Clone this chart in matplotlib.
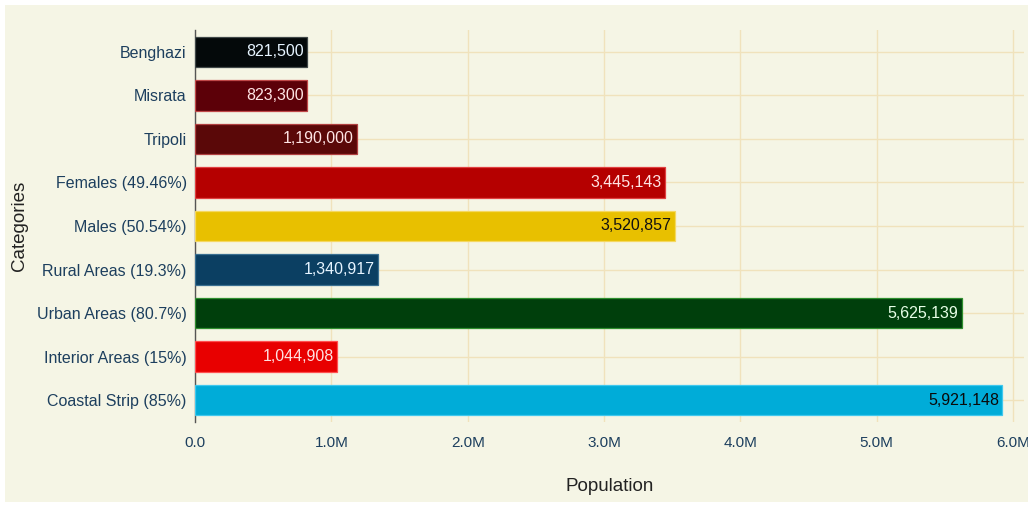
import matplotlib
matplotlib.use("Agg")
import matplotlib.pyplot as plt
from matplotlib.patches import Rectangle

categories = ["Coastal Strip (85%)", "Interior Areas (15%)", "Urban Areas (80.7%)",
              "Rural Areas (19.3%)", "Males (50.54%)", "Females (49.46%)",
              "Tripoli", "Misrata", "Benghazi"]
values = [5921148, 1044908, 5625139, 1340917, 3520857, 3445143, 1190000, 823300, 821500]
bar_colors = ["#00acd8", "#e80000", "#003f0c", "#0b3f62", "#e8c000", "#b50000",
              "#5a0808", "#5c0008", "#04090a"]
edge_colors = ["#40c8ee", "#ff5050", "#2f8f2f", "#3a6f90", "#f5d860", "#e04040",
               "#b04040", "#c04848", "#404848"]
label_colors = ["#0a0a0a", "#ffe0e0", "#e8ffe8", "#e6f4ff", "#111111", "#ffe4e4",
                "#ffe4e4", "#ffe4e4", "#e6f4ff"]
xticks = [0, 1e6, 2e6, 3e6, 4e6, 5e6, 6e6]
xtick_labels = ["0.0", "1.0M", "2.0M", "3.0M", "4.0M", "5.0M", "6.0M"]

plt.rcParams['font.family'] = ['Liberation Sans', 'DejaVu Sans']

bg = "#f5f5e5"
fig = plt.figure(figsize=(10.28, 5.05), dpi=100, facecolor="white")
fig.patches.append(Rectangle((5/1028, 3/505), 1 - 5/1028, 1 - 8/505,
                             transform=fig.transFigure, facecolor=bg,
                             edgecolor="none", zorder=-10))
ax = fig.add_axes([195/1028, 83/505, (1024-195)/1028, (422-30)/505])
ax.set_facecolor(bg)

y = list(range(len(categories)))
ax.barh(y, values, height=0.7, color=bar_colors, edgecolor=edge_colors,
        linewidth=0.9, zorder=3)

for yi, v, c in zip(y, values, label_colors):
    ax.text(v - 25000, yi, f"{v:,}", ha="right", va="center", color=c,
            fontsize=11.5, zorder=4)

ax.set_xlim(0, 6.08e6)
ax.set_ylim(-0.5, 8.5)
ax.set_xticks(xticks)
ax.set_xticklabels(xtick_labels)
ax.set_yticks(y)
ax.set_yticklabels(categories)
ax.tick_params(axis="both", colors="#1d3f5e", labelsize=11.5, length=0, pad=6)
ax.tick_params(axis="x", pad=10, labelsize=11)

ax.grid(True, color="#f0e2bc", linewidth=1.0, zorder=0)
ax.set_axisbelow(True)
for s in ["top", "right", "bottom"]:
    ax.spines[s].set_visible(False)
ax.spines["left"].set_color("#555555")
ax.spines["left"].set_linewidth(1.0)

ax.set_xlabel("Population", fontsize=13.5, color="#222222", labelpad=20)
ax.set_ylabel("Categories", fontsize=13.5, color="#222222", labelpad=6)

fig.savefig("out.png", dpi=100, facecolor=fig.get_facecolor())
